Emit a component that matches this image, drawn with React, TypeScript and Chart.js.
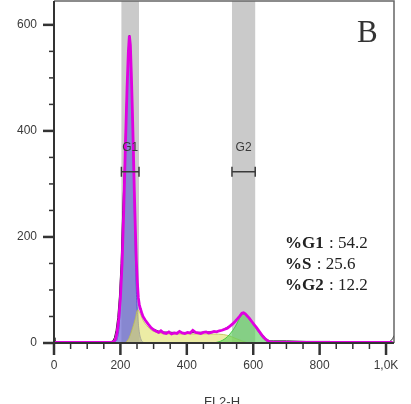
import React, { useEffect, useRef } from 'react';
import { Chart, registerables } from 'chart.js';
Chart.register(...registerables);

// ---- data ----
const fitChannels = [0, 100, 170, 180, 186, 190, 195, 200, 205, 210, 215, 220, 224, 227, 230, 233, 236, 239, 242, 245, 248, 251, 254, 257, 260, 264, 268, 275, 283, 292, 300, 308, 315, 322, 330, 338, 346, 354, 362, 370, 378, 386, 394, 402, 410, 418, 426, 434, 442, 450, 458, 466, 474, 482, 490, 498, 506, 514, 522, 530, 538, 546, 553, 560, 566, 571, 576, 582, 588, 595, 602, 610, 618, 626, 634, 642, 650, 660, 800, 1020];
const fitCounts = [1, 1, 1, 2, 8, 20, 45, 85, 150, 250, 370, 480, 550, 580, 562, 505, 440, 365, 285, 215, 155, 115, 85, 72, 65, 57, 50, 43, 36, 29, 25, 22, 20, 23, 19, 18, 21, 17, 19, 18, 22, 19, 18, 20, 19, 24, 20, 19, 18, 20, 21, 19, 20, 22, 21, 23, 24, 26, 28, 32, 36, 41, 46, 51, 56, 57, 55, 51, 47, 41, 35, 29, 22, 15, 9, 5, 2, 1, 1, 1];

const dataChannels = [0, 3, 6, 170, 176, 182, 187, 192, 197, 202, 207, 212, 218, 224, 227, 230, 236, 242, 248, 254, 260, 270, 290, 320, 400, 500, 540, 560, 570, 580, 600, 620, 640, 650, 660, 700, 760, 830, 840, 1000, 1012, 1020, 1024];
const dataCounts = [10, 3, 0, 0, 3, 10, 24, 48, 88, 150, 250, 330, 450, 545, 580, 562, 440, 285, 155, 85, 65, 48, 29, 21, 19, 22, 36, 51, 57, 53, 38, 21, 7, 4, 4, 4, 3, 3, 1, 1, 3, 8, 14];

const g1Channels = [180, 188, 192, 196, 200, 205, 210, 215, 220, 224, 227, 230, 233, 236, 239, 242, 245, 248, 251, 255, 259, 264, 270, 278];
const g1Counts = [0, 4, 12, 30, 75, 140, 240, 360, 470, 545, 575, 555, 490, 415, 330, 245, 165, 100, 60, 30, 13, 4, 1, 0];

const sChannels = [215, 225, 235, 245, 251, 256, 262, 268, 275, 283, 292, 300, 320, 360, 400, 440, 480, 510, 530, 545, 558, 570, 585];
const sCounts = [0, 8, 25, 46, 62, 60, 52, 43, 36, 30, 25, 22, 18, 17, 17, 17, 17, 16, 13, 9, 6, 3, 0];

const g2Channels = [480, 500, 515, 530, 545, 555, 562, 568, 575, 585, 595, 605, 612, 620, 628, 636, 645, 655];
const g2Counts = [0, 3, 8, 17, 30, 42, 50, 54, 54, 47, 39, 31, 24, 17, 10, 5, 2, 0];

const gateNames = ['G1', 'G2'];
const gateStarts = [203, 536];
const gateEnds = [256, 606];
const gateLevel = 323;

const statLabels = ['%G1', '%S', '%G2'];
const statValues = ['54.2', '25.6', '12.2'];

const xTickValues = [0, 200, 400, 600, 800, 1000];
const xTickLabels = ['0', '200', '400', '600', '800', '1,0K'];
const yTickValues = [0, 200, 400, 600];
const yTickLabels = ['0', '200', '400', '600'];
const axisTitle = 'FL2-H';
const panelLetter = 'B';

const toPoints = (xs: number[], ys: number[]) => xs.map((x, i) => ({ x, y: ys[i] }));

export default function App() {
  const ref = useRef<HTMLCanvasElement>(null);
  useEffect(() => {
    document.body.style.margin = '0';
    const sans = '"Liberation Sans", Arial, sans-serif';
    const serif = '"Liberation Serif", "Times New Roman", serif';
    const overlay = {
      id: 'overlay',
      beforeDatasetsDraw(chart: any) {
        const { ctx, chartArea, scales } = chart;
        const xs = scales.x;
        ctx.save();
        ctx.fillStyle = '#cacaca';
        for (let i = 0; i < gateStarts.length; i++) {
          const a = xs.getPixelForValue(gateStarts[i]);
          const b = xs.getPixelForValue(gateEnds[i]);
          ctx.fillRect(a, chartArea.top, b - a, chartArea.bottom - chartArea.top);
        }
        ctx.restore();
      },
      afterDatasetsDraw(chart: any) {
        const { ctx, scales } = chart;
        const xs = scales.x, ys = scales.y;
        ctx.save();
        ctx.strokeStyle = '#3a3a3a';
        ctx.fillStyle = '#3a3a3a';
        ctx.lineWidth = 1.5;
        ctx.font = '12px ' + sans;
        ctx.textAlign = 'center';
        ctx.textBaseline = 'middle';
        const y = ys.getPixelForValue(gateLevel);
        for (let i = 0; i < gateStarts.length; i++) {
          const a = xs.getPixelForValue(gateStarts[i]);
          const b = xs.getPixelForValue(gateEnds[i]);
          ctx.beginPath();
          ctx.moveTo(a, y); ctx.lineTo(b, y);
          ctx.moveTo(a, y - 5); ctx.lineTo(a, y + 5);
          ctx.moveTo(b, y - 5); ctx.lineTo(b, y + 5);
          ctx.stroke();
          ctx.fillText(gateNames[i], (a + b) / 2, y - 24);
        }
        ctx.restore();
      },
      afterDraw(chart: any) {
        const { ctx, chartArea, scales } = chart;
        const { left, right, top, bottom } = chartArea;
        const xs = scales.x, ys = scales.y;
        ctx.save();
        // frame top/right
        ctx.strokeStyle = '#666';
        ctx.lineWidth = 1.5;
        ctx.beginPath();
        ctx.moveTo(left, top); ctx.lineTo(right, top); ctx.lineTo(right, bottom);
        ctx.stroke();
        // axes
        ctx.strokeStyle = '#333';
        ctx.lineWidth = 2;
        ctx.beginPath();
        ctx.moveTo(left, top); ctx.lineTo(left, bottom);
        ctx.moveTo(left, bottom); ctx.lineTo(right, bottom);
        ctx.stroke();
        // y ticks
        for (let v = 0; v <= 600; v += 50) {
          const major = yTickValues.includes(v);
          const py = ys.getPixelForValue(v);
          ctx.lineWidth = major ? 2.5 : 1.5;
          ctx.beginPath();
          ctx.moveTo(left - (major ? 11 : 5), py); ctx.lineTo(left, py);
          ctx.stroke();
        }
        // x ticks
        for (let v = 0; v <= 1000; v += 50) {
          const major = xTickValues.includes(v);
          const px = xs.getPixelForValue(v);
          ctx.lineWidth = major ? 2.5 : 1.5;
          ctx.beginPath();
          ctx.moveTo(px, bottom); ctx.lineTo(px, bottom + (major ? 12 : 6));
          ctx.stroke();
        }
        // tick labels
        ctx.fillStyle = '#3a3a3a';
        ctx.font = '12px ' + sans;
        ctx.textAlign = 'right';
        ctx.textBaseline = 'middle';
        yTickValues.forEach((v, i) => ctx.fillText(yTickLabels[i], left - 17, ys.getPixelForValue(v)));
        ctx.textAlign = 'center';
        ctx.textBaseline = 'top';
        xTickValues.forEach((v, i) => ctx.fillText(xTickLabels[i], xs.getPixelForValue(v), bottom + 17));
        // axis title
        ctx.font = '13px ' + sans;
        ctx.fillText(axisTitle, (left + right) / 2 - 2, bottom + 53);
        // panel letter
        ctx.fillStyle = '#333';
        ctx.font = '31px ' + serif;
        ctx.textAlign = 'left';
        ctx.textBaseline = 'alphabetic';
        ctx.fillText(panelLetter, right - 37, top + 41);
        // stats
        ctx.fillStyle = '#222';
        const sx = right - 109;
        for (let i = 0; i < statLabels.length; i++) {
          const by = top + 247 + i * 21;
          ctx.font = 'bold 17px ' + serif;
          ctx.fillText(statLabels[i], sx, by);
          const w = ctx.measureText(statLabels[i]).width;
          ctx.font = '17px ' + serif;
          ctx.fillText(' : ' + statValues[i], sx + w + 1, by);
        }
        ctx.restore();
      },
    };

    const chart = new Chart(ref.current as HTMLCanvasElement, {
      type: 'line',
      data: {
        datasets: [
          { label: 'fit', data: toPoints(fitChannels, fitCounts), borderColor: '#e000e0', borderWidth: 2.8, pointRadius: 0, fill: false, tension: 0 },
          { label: 'data', data: toPoints(dataChannels, dataCounts), borderColor: '#222', borderWidth: 1, pointRadius: 0, fill: false, tension: 0 },
          { label: 'G2', data: toPoints(g2Channels, g2Counts), borderColor: 'rgba(60,200,60,0.9)', backgroundColor: 'rgba(90,210,90,0.62)', borderWidth: 1, pointRadius: 0, fill: 'origin', tension: 0.3 },
          { label: 'S', data: toPoints(sChannels, sCounts), borderColor: 'rgba(190,190,80,0.8)', backgroundColor: 'rgba(225,225,110,0.62)', borderWidth: 1, pointRadius: 0, fill: 'origin', tension: 0.3 },
          { label: 'G1', data: toPoints(g1Channels, g1Counts), borderColor: 'rgba(70,70,220,0.9)', backgroundColor: 'rgba(110,110,210,0.72)', borderWidth: 1, pointRadius: 0, fill: 'origin', tension: 0.2 },
        ],
      },
      options: {
        animation: false,
        responsive: true,
        maintainAspectRatio: false,
        layout: { padding: { top: 1, right: 17, bottom: 0, left: 0 } },
        plugins: { legend: { display: false }, tooltip: { enabled: false } },
        scales: {
          x: {
            type: 'linear', min: 0, max: 1024,
            afterFit: (s: any) => { s.height = 61; s.paddingLeft = 0; s.paddingRight = 0; },
            grid: { display: false, drawTicks: false },
            border: { display: false },
            ticks: { display: false },
          },
          y: {
            type: 'linear', min: 0, max: 645,
            afterFit: (s: any) => { s.width = 54; s.paddingTop = 0; s.paddingBottom = 0; },
            grid: { display: false, drawTicks: false },
            border: { display: false },
            ticks: { display: false },
          },
        },
      },
      plugins: [overlay],
    } as any);
    return () => chart.destroy();
  }, []);
  return (
    <div style={{ position: 'relative', width: 411, height: 404 }}>
      <canvas ref={ref} />
    </div>
  );
}
